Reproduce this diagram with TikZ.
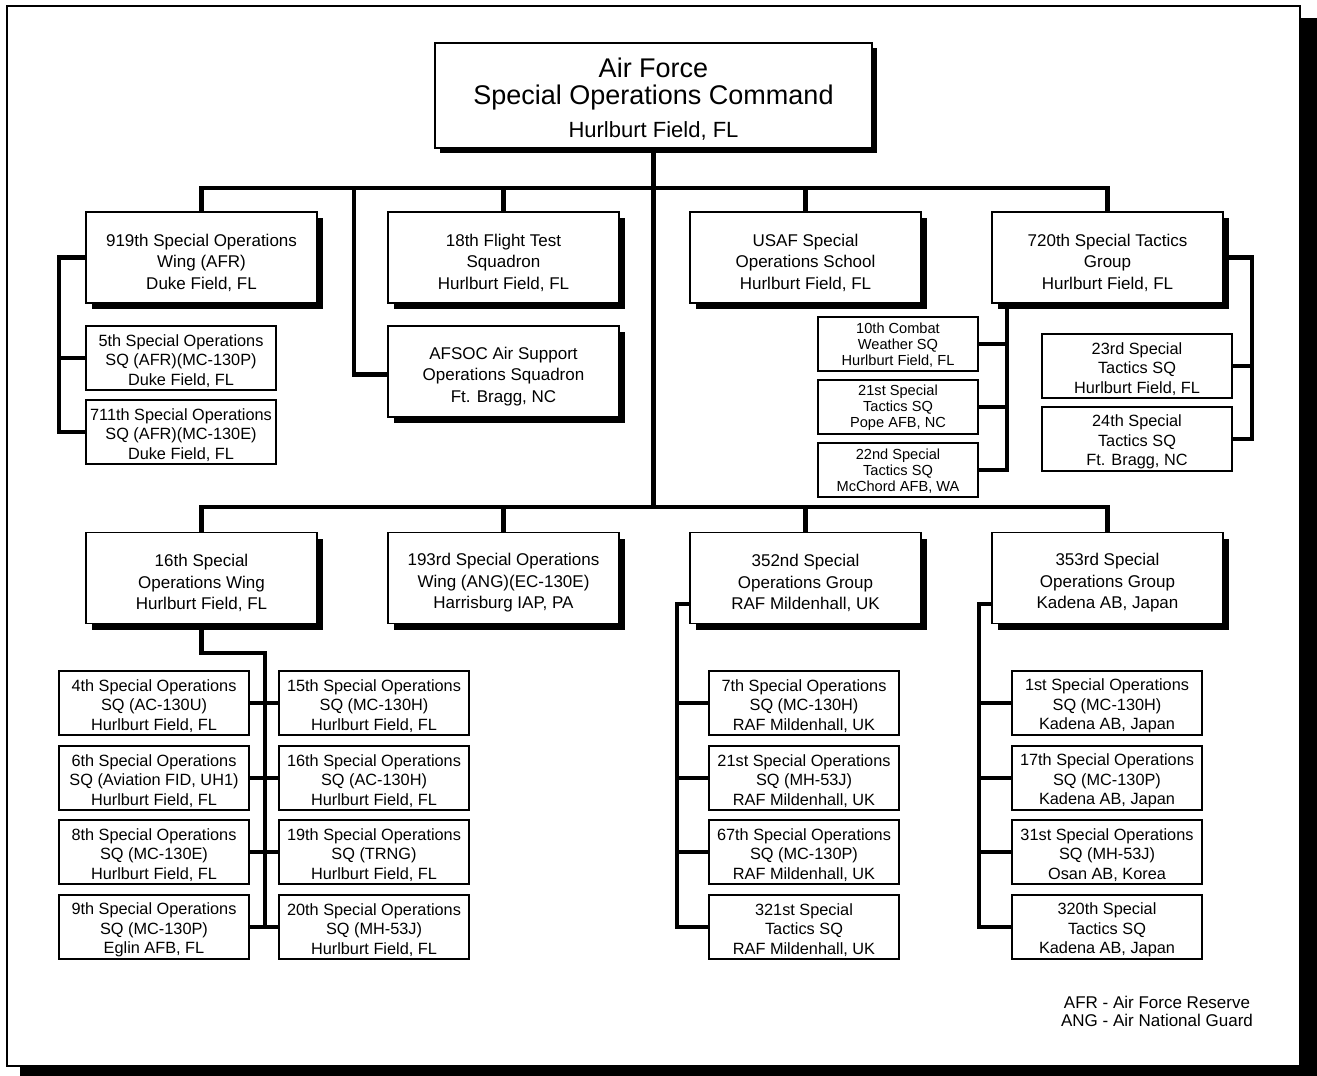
\documentclass[tikz,border=0pt]{standalone}
\usepackage{fontspec}
\setmainfont{Liberation Sans}
\usetikzlibrary{shadows}
\pgfdeclarelayer{framelayer}
\pgfdeclarelayer{linklayer}
\pgfsetlayers{framelayer,linklayer,main}
\newcommand\tS{\rule{0pt}{27.5pt}}
\newcommand\bS{\rule{0pt}{22.5pt}}
\newcommand\sS{\rule{0pt}{17.5pt}}
\newcommand\cS{\rule{0pt}{12pt}}
\begin{document}
\begin{tikzpicture}[x=1pt,y=-1pt,
  box/.style={draw, line width=1.8pt, fill=white, align=center, inner sep=0pt},
  shad/.style={drop shadow={shadow xshift=#1, shadow yshift=-#1, opacity=1, fill=black}},
  topbox/.style={box, shad=5pt, minimum width=437pt, minimum height=105pt, font=\fontsize{27}{27}\selectfont},
  bigbox/.style={box, shad=6pt, minimum width=231pt, minimum height=91pt, font=\fontsize{17}{21.5}\selectfont},
  sqbox/.style={box, minimum width=190pt, minimum height=64pt, font=\fontsize{16.3}{19.3}\selectfont},
  stbox/.style={box, minimum width=160pt, minimum height=54pt, font=\fontsize{14.6}{16}\selectfont},
  link/.style={line width=4.5pt, line join=miter},
  legend/.style={align=center, inner sep=0pt, font=\fontsize{17}{18}\selectfont}
]
\useasboundingbox (0,0) rectangle (1317,1076);
% outer frame with shadow
\begin{pgfonlayer}{framelayer}
\fill (20,18) rectangle (1317,1076);
\draw[line width=2pt, fill=white] (7,6) rectangle (1300,1066);
\end{pgfonlayer}

% junction coordinates
\coordinate (bus1) at (655,188);
\coordinate (bus2) at (655,507);
\coordinate (afj) at (354,188);
\coordinate (r720) at (1252,260);
\coordinate (v16) at (265,653);
\coordinate (v352) at (677,604);
\coordinate (v353) at (979,604);

% top
\node[topbox] (top) at (653.5,95.5) {\tS Air Force\\Special Operations Command\\[6pt]{\fontsize{22}{22}\selectfont Hurlburt Field, FL}};

% upper row
\node[bigbox] (n919) at (201.5,257.5) {\bS 919th Special Operations\\Wing (AFR)\\Duke Field, FL};
\node[bigbox] (n18) at (503.5,257.5) {\bS 18th Flight Test\\Squadron\\Hurlburt Field, FL};
\node[bigbox] (usaf) at (805.5,257.5) {\bS USAF Special\\Operations School\\Hurlburt Field, FL};
\node[bigbox] (n720) at (1107.5,257.5) {\bS 720th Special Tactics\\Group\\Hurlburt Field, FL};
\node[bigbox] (afsoc) at (503.5,371.5) {\bS AFSOC Air Support\\Operations Squadron\\Ft. Bragg, NC};

\node[sqbox] (sq5) at (181,358) {\sS 5th Special Operations\\SQ (AFR)(MC-130P)\\Duke Field, FL};
\node[sqbox] (sq711) at (181,432) {\sS 711th Special Operations\\SQ (AFR)(MC-130E)\\Duke Field, FL};

\node[stbox] (st10) at (898,344) {\cS 10th Combat\\Weather SQ\\Hurlburt Field, FL};
\node[stbox] (st21) at (898,407) {\cS 21st Special\\Tactics SQ\\Pope AFB, NC};
\node[stbox] (st22) at (898,470) {\cS 22nd Special\\Tactics SQ\\McChord AFB, WA};

\node[sqbox] (st23) at (1137,366) {\sS 23rd Special\\Tactics SQ\\Hurlburt Field, FL};
\node[sqbox] (st24) at (1137,439) {\sS 24th Special\\Tactics SQ\\Ft. Bragg, NC};

% lower row
\node[bigbox] (n16) at (201.5,578) {\bS 16th Special\\Operations Wing\\Hurlburt Field, FL};
\node[bigbox] (n193) at (503.5,578) {\bS 193rd Special Operations\\Wing (ANG)(EC-130E)\\Harrisburg IAP, PA};
\node[bigbox] (n352) at (805.5,578) {\bS 352nd Special\\Operations Group\\RAF Mildenhall, UK};
\node[bigbox] (n353) at (1107.5,578) {\bS 353rd Special\\Operations Group\\Kadena AB, Japan};

\node[sqbox] (s4) at (154,703) {\sS 4th Special Operations\\SQ (AC-130U)\\Hurlburt Field, FL};
\node[sqbox] (s6) at (154,778) {\sS 6th Special Operations\\SQ (Aviation FID, UH1)\\Hurlburt Field, FL};
\node[sqbox] (s8) at (154,852) {\sS 8th Special Operations\\SQ (MC-130E)\\Hurlburt Field, FL};
\node[sqbox] (s9) at (154,927) {\sS 9th Special Operations\\SQ (MC-130P)\\Eglin AFB, FL};
\node[sqbox] (s15) at (374,703) {\sS 15th Special Operations\\SQ (MC-130H)\\Hurlburt Field, FL};
\node[sqbox] (s16) at (374,778) {\sS 16th Special Operations\\SQ (AC-130H)\\Hurlburt Field, FL};
\node[sqbox] (s19) at (374,852) {\sS 19th Special Operations\\SQ (TRNG)\\Hurlburt Field, FL};
\node[sqbox] (s20) at (374,927) {\sS 20th Special Operations\\SQ (MH-53J)\\Hurlburt Field, FL};

\node[sqbox] (s7) at (804,703) {\sS 7th Special Operations\\SQ (MC-130H)\\RAF Mildenhall, UK};
\node[sqbox] (s21) at (804,778) {\sS 21st Special Operations\\SQ (MH-53J)\\RAF Mildenhall, UK};
\node[sqbox] (s67) at (804,852) {\sS 67th Special Operations\\SQ (MC-130P)\\RAF Mildenhall, UK};
\node[sqbox] (s321) at (804,927) {\sS 321st Special\\Tactics SQ\\RAF Mildenhall, UK};

\node[sqbox] (s1) at (1107,703) {\sS 1st Special Operations\\SQ (MC-130H)\\Kadena AB, Japan};
\node[sqbox] (s17) at (1107,778) {\sS 17th Special Operations\\SQ (MC-130P)\\Kadena AB, Japan};
\node[sqbox] (s31) at (1107,852) {\sS 31st Special Operations\\SQ (MH-53J)\\Osan AB, Korea};
\node[sqbox] (s320) at (1107,927) {\sS 320th Special\\Tactics SQ\\Kadena AB, Japan};

\node[legend] (leg) at (1157,1011) {AFR - Air Force Reserve\\ANG - Air National Guard};

% connectors
\begin{pgfonlayer}{linklayer}
\draw[link] (top.south) -- (top.south |- bus2);
\draw[link] (n919.north) -- (n919.north |- bus1) -- (n720.north |- bus1) -- (n720.north);
\draw[link] (n18.north) -- (n18.north |- bus1);
\draw[link] (usaf.north) -- (usaf.north |- bus1);
\draw[link] ([yshift=-3pt]afsoc.west) -| (afj);
\draw[link] (n16.north) -- (n16.north |- bus2) -- (n353.north |- bus2) -- (n353.north);
\draw[link] (n193.north) -- (n193.north |- bus2);
\draw[link] (n352.north) -- (n352.north |- bus2);

% 919th subtree
\draw[link] (n919.west) -- ++(-26,0) |- (sq711.west);
\draw[link] (sq5.west) -- ++(-26,0);

% 720th subtree
\draw[link] ([xshift=16pt]n720.south west) |- (st22.east);
\draw[link] (st10.east) -- ++(30,0);
\draw[link] (st21.east) -- ++(30,0);
\draw[link] (n720.east) -- (n720.east -| r720) |- (st24.east);
\draw[link] (st23.east) -- (st23.east -| r720);

% 16th subtree
\draw[link] (n16.south) |- (v16) -- (v16 |- s20.west);
\draw[link] (s4.east) -- (s15.west);
\draw[link] (s6.east) -- (s16.west);
\draw[link] (s8.east) -- (s19.west);
\draw[link] (s9.east) -- (s20.west);

% 352nd subtree
\draw[link] (n352.west |- v352) -- (v352) |- (s321.west);
\draw[link] (s7.west) -- (s7.west -| v352);
\draw[link] (s21.west) -- (s21.west -| v352);
\draw[link] (s67.west) -- (s67.west -| v352);

% 353rd subtree
\draw[link] (n353.west |- v353) -- (v353) |- (s320.west);
\draw[link] (s1.west) -- (s1.west -| v353);
\draw[link] (s17.west) -- (s17.west -| v353);
\draw[link] (s31.west) -- (s31.west -| v353);
\end{pgfonlayer}
\end{tikzpicture}
\end{document}
